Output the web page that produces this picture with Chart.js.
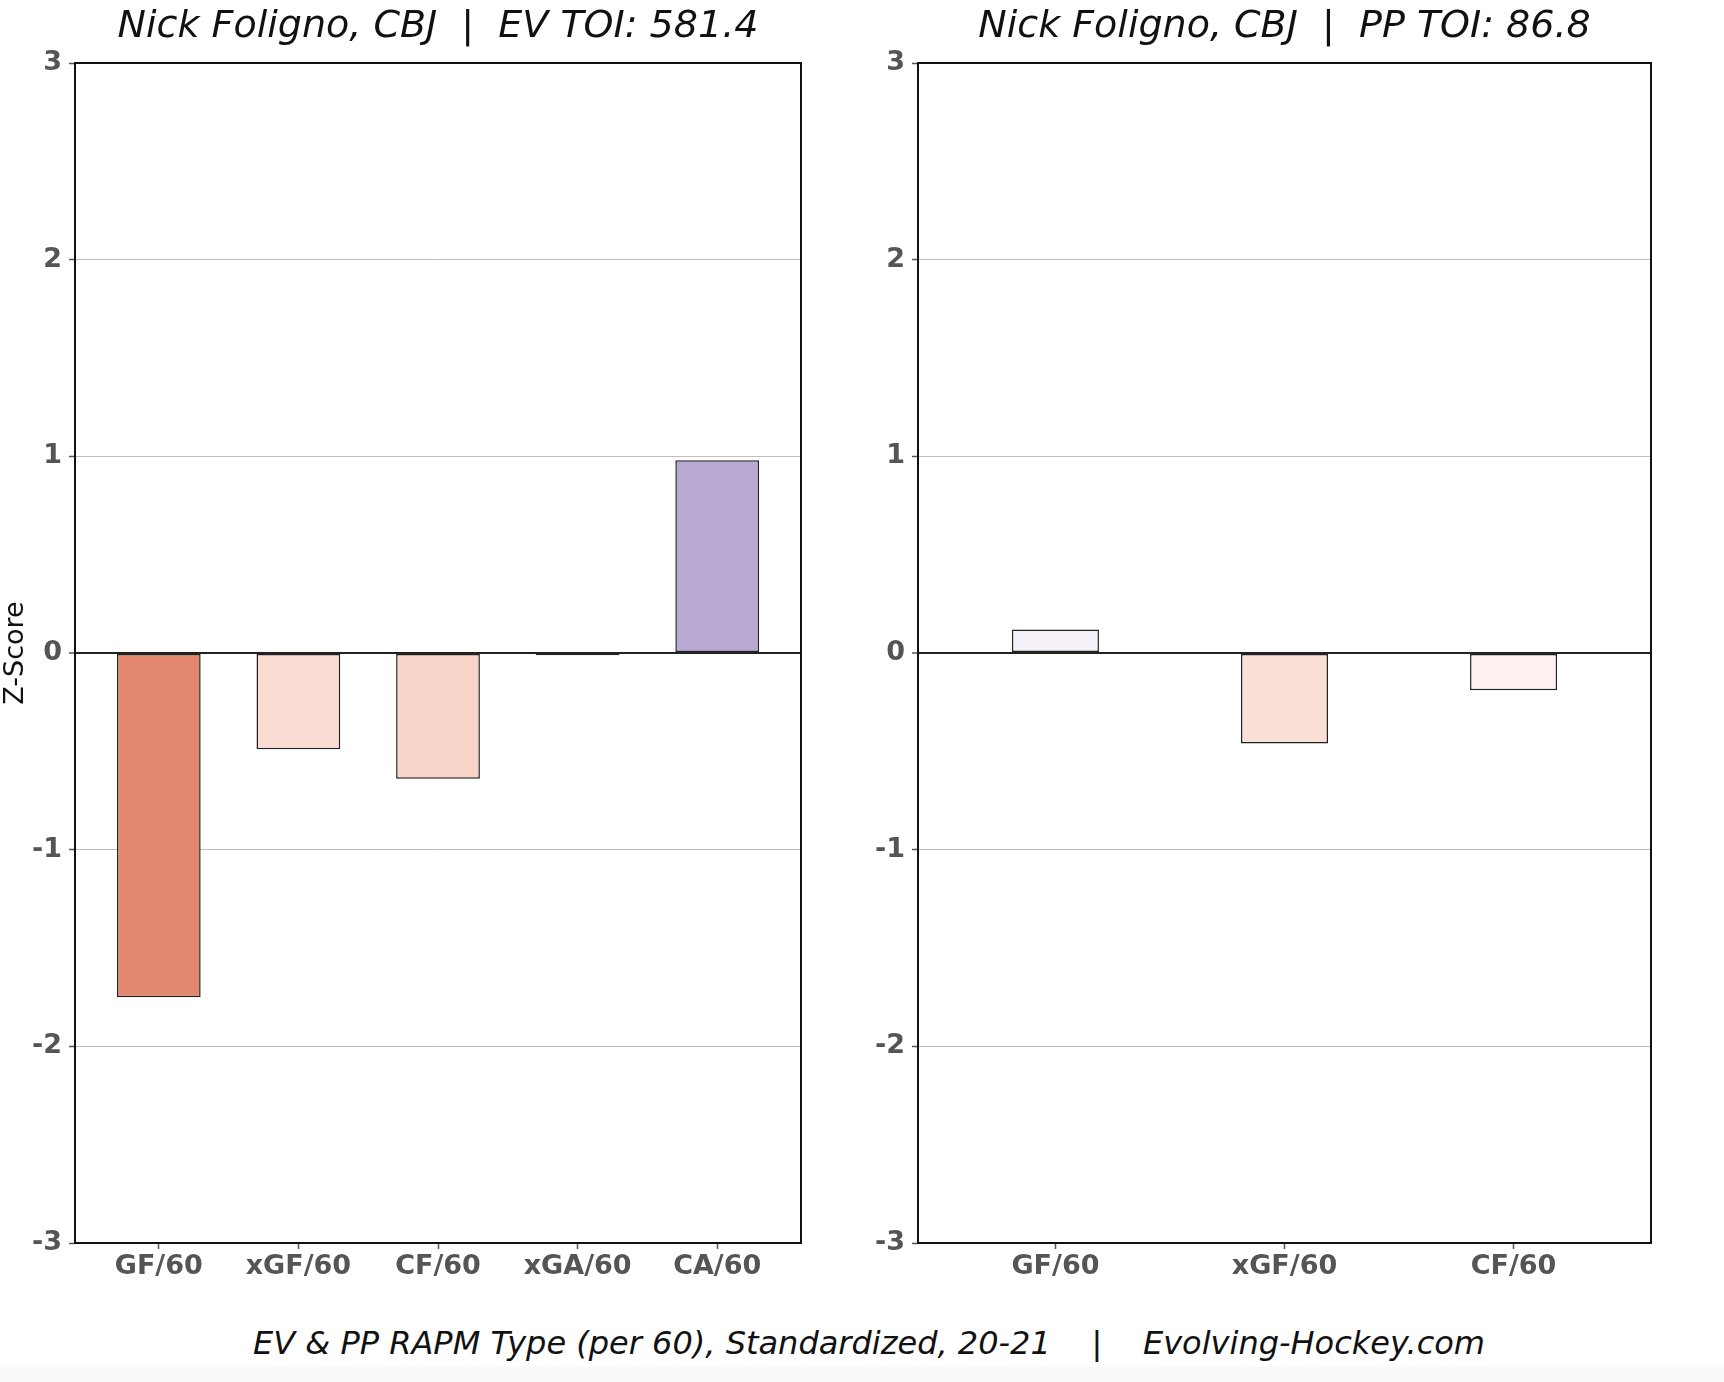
<!DOCTYPE html>
<html>
<head>
<meta charset="utf-8">
<script src="https://cdn.jsdelivr.net/npm/chart.js@4.4.1/dist/chart.umd.min.js"></script>
<style>
  html, body { margin: 0; padding: 0; background: #fff; }
  body { width: 1724px; height: 1382px; position: relative; overflow: hidden; font-family: "DejaVu Sans", sans-serif; }
  #evBox { position: absolute; left: 0; top: 0; }
  #ppBox { position: absolute; left: 840px; top: 0; }
  #footer { position: absolute; left: 869px; top: 1327px; transform: translateX(-50%); white-space: pre;
            font: italic 32px/32px "DejaVu Sans"; color: #111; }
  #band { position: absolute; left: 0; top: 1367px; width: 1724px; height: 15px; background: #f9f9f9; }
</style>
</head>
<body>
<div id="evBox"><canvas id="evChart" width="830" height="1300"></canvas></div>
<div id="ppBox"><canvas id="ppChart" width="884" height="1300"></canvas></div>
<div id="footer">EV &amp; PP RAPM Type (per 60), Standardized, 20-21    |    Evolving-Hockey.com</div>
<div id="band"></div>
<script>
// EV chart data
const evLabels = ['GF/60', 'xGF/60', 'CF/60', 'xGA/60', 'CA/60'];
const evValues = [-1.75, -0.49, -0.64, -0.012, 0.98];
const evColors = ['#e3876e', '#fadcd3', '#f8d4c9', '#f3f1f3', '#b9a9d5'];

// PP chart data
const ppLabels = ['GF/60', 'xGF/60', 'CF/60'];
const ppValues = [0.12, -0.46, -0.19];
const ppColors = ['#f4f1f9', '#fae0d7', '#fdf0ee'];

const yTicks = [-3, -2, -1, 0, 1, 2, 3];

const tickFont = { family: 'DejaVu Sans', size: 27, weight: 'bold' };
const tickColor = '#555555';

// draws the closed box around the plot area
const frame = {
  id: 'frame',
  afterDraw(chart) {
    const a = chart.chartArea, ctx = chart.ctx;
    ctx.save();
    ctx.strokeStyle = '#111';
    ctx.lineWidth = 2;
    ctx.strokeRect(a.left, a.top, a.right - a.left, a.bottom - a.top);
    ctx.restore();
  }
};

function makeChart(id, labels, values, colors, title, barPct, yWidth, padRight, showYTitle) {
  const ctx = document.getElementById(id).getContext('2d');
  return new Chart(ctx, {
    type: 'bar',
    data: {
      datasets: [{
        data: values.map((v, i) => ({ x: i, y: v })),
        backgroundColor: colors,
        borderColor: '#222',
        borderWidth: 1.5,
        borderSkipped: false,
        barPercentage: barPct,
        categoryPercentage: 1.0
      }]
    },
    options: {
      responsive: false,
      devicePixelRatio: 1,
      animation: false,
      layout: { padding: { left: 0, right: padRight, top: 0, bottom: 0 } },
      plugins: {
        legend: { display: false },
        tooltip: { enabled: false },
        title: {
          display: true,
          text: title,
          fullSize: false,
          color: '#111',
          font: { family: 'DejaVu Sans', size: 38, style: 'italic', weight: 'normal' },
          padding: { top: 4, bottom: 13.4 }
        }
      },
      scales: {
        x: {
          type: 'linear',
          offset: false,
          min: -0.6,
          max: labels.length - 0.4,
          afterFit: (s) => { s.height = 57; },
          afterBuildTicks: (s) => { s.ticks = labels.map((l, i) => ({ value: i })); },
          border: { color: '#111', width: 2 },
          grid: { offset: false, drawOnChartArea: false, drawTicks: true, tickLength: 6, tickColor: '#555', tickWidth: 1.5 },
          ticks: {
            autoSkip: false,
            maxRotation: 0,
            padding: 2,
            color: tickColor,
            font: tickFont,
            callback: (v) => labels[v]
          }
        },
        y: {
          min: -3,
          max: 3,
          afterFit: (s) => { s.width = yWidth; },
          afterBuildTicks: (s) => { s.ticks = yTicks.map(v => ({ value: v })); },
          border: { color: '#111', width: 2 },
          grid: {
            color: (c) => c.tick && c.tick.value === 0 ? '#222' : '#bdbdbd',
            lineWidth: (c) => c.tick && c.tick.value === 0 ? 2 : 1,
            tickColor: '#555',
            tickLength: 6,
            tickWidth: 1.5
          },
          ticks: { padding: 7, color: tickColor, font: tickFont, callback: (v) => String(v) },
          title: {
            display: showYTitle,
            text: 'Z-Score',
            color: '#111',
            font: { family: 'DejaVu Sans', size: 27 },
            padding: { top: 0, bottom: 0 }
          }
        }
      }
    },
    plugins: [frame]
  });
}

makeChart('evChart', evLabels, evValues, evColors, 'Nick Foligno, CBJ  |  EV TOI: 581.4', 0.6, 75, 29, true);
makeChart('ppChart', ppLabels, ppValues, ppColors, 'Nick Foligno, CBJ  |  PP TOI: 86.8', 0.38, 78, 73, false);
</script>
</body>
</html>
